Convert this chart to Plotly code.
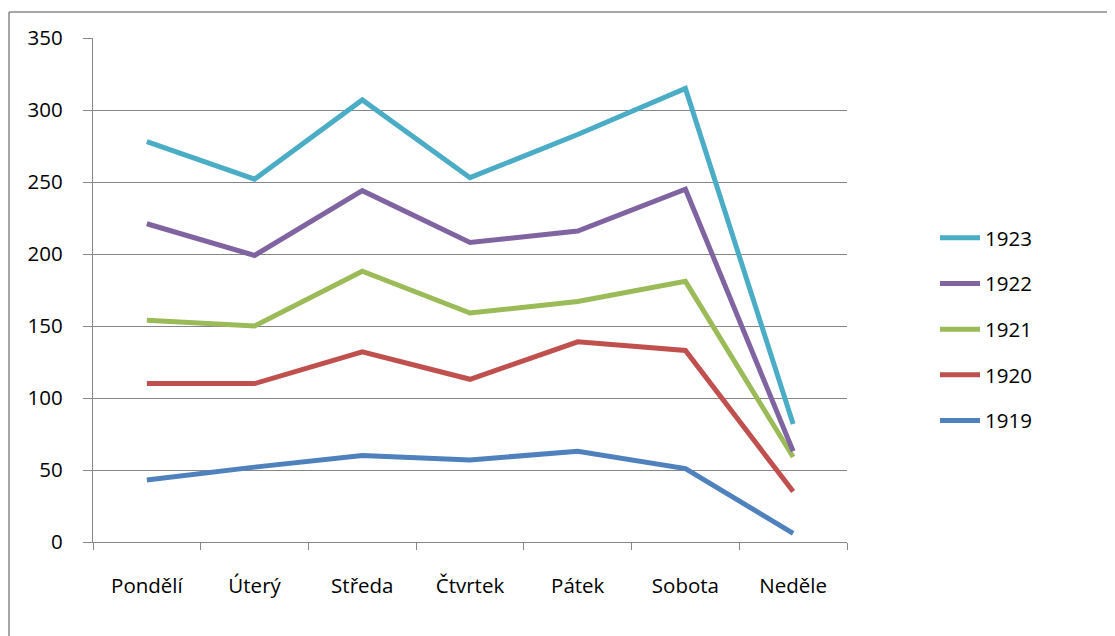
import plotly.graph_objects as go

days = ["Pondělí", "Úterý", "Středa", "Čtvrtek", "Pátek", "Sobota", "Neděle"]
v1919 = [43, 52, 60, 57, 63, 51, 6]
v1920 = [110, 110, 132, 113, 139, 133, 35]
v1921 = [154, 150, 188, 159, 167, 181, 59]
v1922 = [221, 199, 244, 208, 216, 245, 63]
v1923 = [278, 252, 307, 253, 283, 315, 82]

series = [
    ("1919", v1919, "#4F81BD"),
    ("1920", v1920, "#C0504D"),
    ("1921", v1921, "#9BBB59"),
    ("1922", v1922, "#8064A2"),
    ("1923", v1923, "#4BACC6"),
]

FONT = "'Open Sans', sans-serif"
FS = 20.5
fig = go.Figure()
for i, (name, vals, col) in enumerate(series):
    fig.add_trace(go.Scatter(x=days, y=vals, name=name, mode="lines",
                             legendgroup=name, legendrank=1000 - i,
                             line=dict(color=col, width=5)))

OFF = 8  # page body margin
W, H = 1115 - OFF, 636 - OFF
L, R, T, B = 93 - OFF, 847 - OFF, 38 - OFF, 542 - OFF
pw, ph = R - L, B - T

def px(x):
    return (x - OFF - L) / pw

def py(y):
    return (B - (y - OFF)) / ph

fig.update_layout(
    width=W, height=H,
    margin=dict(l=L, r=W - R, t=T, b=H - B),
    paper_bgcolor="white", plot_bgcolor="white",
    font=dict(family=FONT, size=FS, color="black"),
    showlegend=True,
    legend=dict(x=px(935), y=py(218), xanchor="left", yanchor="top",
                traceorder="grouped", tracegroupgap=16,
                font=dict(size=FS), itemwidth=40, bgcolor="rgba(0,0,0,0)"),
    xaxis=dict(showgrid=False, showline=True, linecolor="#868686", linewidth=1.3,
               range=[-0.5, 6.5],
               ticks="outside", tickson="boundaries", ticklen=7, tickcolor="#868686",
               tickwidth=1.3, ticklabelstandoff=25, tickfont=dict(size=FS)),
    yaxis=dict(range=[0, 350], dtick=50, showgrid=True, gridcolor="#868686", gridwidth=1.3,
               showline=True, linecolor="#868686", linewidth=1.3,
               ticks="outside", ticklen=9, tickcolor="#868686", tickwidth=1.3,
               ticklabelstandoff=16, tickfont=dict(size=FS), zeroline=False),
    shapes=[
        dict(type="line", xref="paper", yref="paper", x0=px(9), x1=px(1200),
             y0=py(12), y1=py(12), line=dict(color="#888888", width=1.5)),
        dict(type="line", xref="paper", yref="paper", x0=px(9), x1=px(9),
             y0=py(12), y1=py(700), line=dict(color="#888888", width=1.5)),
    ],
)

fig.write_html("out.html")
